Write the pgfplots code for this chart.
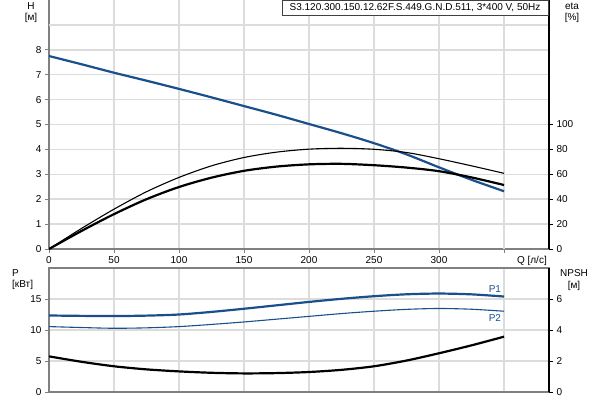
\documentclass[border=0pt]{standalone}
\usepackage{pgfplots}
\pgfplotsset{compat=1.18}
\usepackage{fontspec}
\setmainfont{Liberation Sans}

\definecolor{hblue}{RGB}{25,80,140}
\definecolor{gridgray}{RGB}{220,220,220}
\definecolor{axgray}{RGB}{128,128,128}

\pgfplotsset{
  pump/.style={
    scale only axis, width=500pt,
    xmin=0, xmax=384.6,
    font=\fontsize{10}{12}\selectfont,
    /pgf/number format/assume math mode=true,
    tick align=outside, major tick length=4pt,
    grid style={gridgray, line width=1.5pt},
    tick style={axgray, line width=0.8pt},
  },
  rightax/.style={
    axis y line*=right, axis x line=none,
    y axis line style={black, line width=1.2pt},
    ytick style={black, line width=0.8pt},
    yticklabel style={anchor=west, xshift=0pt},
  },
}

\begin{document}
\begin{tikzpicture}
\useasboundingbox (0,0) rectangle (600pt,-400pt);

% ---------- upper chart: H and eta ----------
\begin{axis}[pump, at={(49pt,-249pt)}, anchor=south west, height=249pt,
  ymin=0, ymax=10,
  axis x line*=bottom, axis y line*=left,
  axis line style={axgray, line width=1.6pt},
  xtick={0,50,...,300}, extra x ticks={350}, extra x tick labels={},
  extra x tick style={grid=major},
  ytick={0,...,8}, extra y ticks={9}, extra y tick labels={},
  extra y tick style={grid=major, major tick length=0pt},
  grid=major]
\addplot[hblue, line width=2.2pt, smooth] coordinates {
  (0,7.75) (25,7.42) (50,7.08) (75,6.76) (100,6.43) (125,6.09) (150,5.74)
  (175,5.39) (200,5.02) (225,4.65) (250,4.25) (275,3.80) (300,3.28)
  (325,2.78) (350,2.32)};
\end{axis}

\begin{axis}[pump, rightax, at={(49pt,-249pt)}, anchor=south west, height=249pt,
  ymin=0, ymax=200, ytick={0,20,...,100}]
\addplot[black, line width=1.1pt, smooth] coordinates {
  (0,0) (25,16.5) (50,32) (75,46) (100,57.5) (125,66.8) (150,73.5) (175,77.8)
  (200,80.2) (225,80.9) (250,80.1) (275,77.5) (300,72.5) (325,66.8) (350,60.8)};
\addplot[black, line width=2.2pt, smooth] coordinates {
  (0,0) (25,14.5) (50,28) (75,40) (100,49.8) (125,57.3) (150,62.8) (175,66.2)
  (200,68) (225,68.4) (250,67.3) (275,65.4) (300,62.5) (325,57.5) (350,51.4)};
\end{axis}

% ---------- lower chart: P and NPSH ----------
\begin{axis}[pump, at={(49pt,-392pt)}, anchor=south west, height=124pt,
  ymin=0, ymax=20,
  axis line style={axgray, line width=1.6pt},
  xtick={50,100,...,350}, xticklabels={}, xtick style={draw=none},
  ytick={0,5,10,15}, ytick pos=left,
  grid=major]
\addplot[hblue, line width=2.2pt, smooth] coordinates {
  (0,12.34) (25,12.28) (50,12.25) (75,12.32) (100,12.5) (125,12.92)
  (150,13.43) (175,13.98) (200,14.53) (225,15.03) (250,15.45) (275,15.76)
  (300,15.88) (325,15.75) (350,15.4)};
\addplot[hblue, line width=1.1pt, smooth] coordinates {
  (0,10.55) (25,10.4) (50,10.28) (75,10.35) (100,10.55) (125,10.9)
  (150,11.3) (175,11.75) (200,12.2) (225,12.65) (250,13.03) (275,13.33)
  (300,13.47) (325,13.35) (350,13.03)};
\node[hblue, font=\fontsize{10}{12}\selectfont] at (axis cs:343,16.6) {P1};
\node[hblue, font=\fontsize{10}{12}\selectfont] at (axis cs:343,11.9) {P2};
\end{axis}

\begin{axis}[pump, rightax, at={(49pt,-392pt)}, anchor=south west, height=124pt,
  ymin=0, ymax=8, ytick={0,2,4,6}]
\addplot[black, line width=2.2pt, smooth] coordinates {
  (0,2.30) (25,1.95) (50,1.66) (75,1.46) (100,1.33) (125,1.24) (150,1.20)
  (175,1.22) (200,1.29) (225,1.43) (250,1.66) (275,2.03) (300,2.50)
  (325,3.01) (350,3.57)};
\end{axis}

% ---------- labels ----------
\begin{scope}[font=\fontsize{10}{12}\selectfont, inner sep=0pt]
\node at (31pt,-6pt) {H};
\node at (31pt,-18pt) {[м]};
\node at (572pt,-6pt) {eta};
\node at (572pt,-18pt) {[\%]};
\node[anchor=west] at (12pt,-273pt) {P};
\node[anchor=west] at (12pt,-285pt) {[кВт]};
\node at (574pt,-273pt) {NPSH};
\node at (574pt,-286pt) {[м]};
\node[anchor=east] at (547pt,-261pt) {Q [л/с]};
\node[draw=black!75, fill=white, line width=0.8pt, minimum width=266pt,
  minimum height=15pt] at (415pt,-8pt) {S3.120.300.150.12.62F.S.449.G.N.D.511, 3*400 V, 50Hz};
\end{scope}
\end{tikzpicture}
\end{document}
